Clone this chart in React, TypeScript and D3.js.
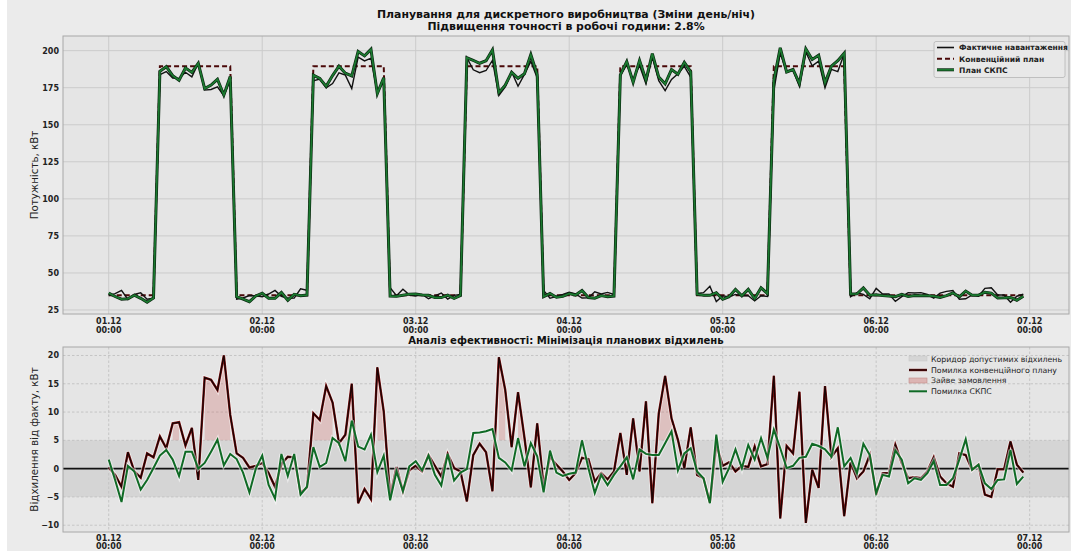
import React from "react";
import * as d3 from "d3";

const dayLabels = ["01.12", "02.12", "03.12", "04.12", "05.12", "06.12", "07.12"];
const timeLabel = "00:00";

// Conventional plan (kW), hourly 01.12 00:00 .. 06.12 23:00
const convPlan: number[] = [
  35, 35, 35, 35, 35, 35, 35, 35, 189.5, 189.5, 189.5, 189.5, 189.5, 189.5, 189.5, 189.5, 189.5, 189.5, 189.5, 189.5, 35, 35, 35, 35,
  35, 35, 35, 35, 35, 35, 35, 35, 189.5, 189.5, 189.5, 189.5, 189.5, 189.5, 189.5, 189.5, 189.5, 189.5, 189.5, 189.5, 35, 35, 35, 35,
  35, 35, 35, 35, 35, 35, 35, 35, 189.5, 189.5, 189.5, 189.5, 189.5, 189.5, 189.5, 189.5, 189.5, 189.5, 189.5, 189.5, 35, 35, 35, 35,
  35, 35, 35, 35, 35, 35, 35, 35, 189.5, 189.5, 189.5, 189.5, 189.5, 189.5, 189.5, 189.5, 189.5, 189.5, 189.5, 189.5, 35, 35, 35, 35,
  35, 35, 35, 35, 35, 35, 35, 35, 189.5, 189.5, 189.5, 189.5, 189.5, 189.5, 189.5, 189.5, 189.5, 189.5, 189.5, 189.5, 35, 35, 35, 35,
  35, 35, 35, 35, 35, 35, 35, 35, 35, 35, 35, 35, 35, 35, 35, 35, 35, 35, 35, 35, 35, 35, 35, 35,
];

// Error of the conventional plan (plan - actual), kW
const convError: number[] = [
  0.2, -1.1, -3.2, 2.9, -0.5, -1.6, 2.7, 2.0,
  5.7, 3.6, 8.0, 8.2, 4.1, 7.2, -2.0, 16.1, 15.7, 13.9, 20.0, 9.5,
  2.7, 1.9, 0.2, 0.5, 1.0, -0.8, -3.2, 0.8, 2.1, 2.0, -4.3, -3.3,
  9.8, 8.6, 14.6, 11.7, 4.5, 6.0, 15.0, -6.1, -3.6, -5.4, 17.9, 10.1,
  -5.0, 0.3, -4.0, -0.3, 0.5, -0.5, 2.4, 0.5, -1.4, 2.6, 0.1, -0.5,
  -5.8, 2.4, 4.4, 2.9, -4.0, 19.7, 13.9, 3.8, 13.5, 5.5, -3.3, 8.0,
  -3.2, 2.1, 0.7, -0.5, -2.0, -0.8, 1.9, 1.7, -2.3, -0.8, -1.9, -0.5,
  6.3, -1.1, 8.9, -0.5, 11.9, -6.1, 9.7, 16.4, 8.9, 5.1, 0.1, 7.3,
  -1.1, -1.7, -6.0, 4.3, 0.5, 1.1, -0.5, 0.5, 0.3, 3.9, 0.4, 0.8,
  16.4, -8.8, 4.0, 2.7, 13.6, -9.6, -0.2, -3.4, 14.6, 2.1, 3.6, -8.4,
  1.1, -1.7, -0.5, 2.4, -4.6, -0.8, -0.8, 4.2, 1.0, -1.7, -1.5, -1.7,
  -0.5, 2.0, -1.4, -2.6, -3.2, 2.7, 2.4, -0.2, 0.7, -4.6, -5.0, -0.1, -0.1, 4.8, 0.7, -0.7,
];

// Error of the SKPS plan (plan - actual), kW
const skpsError: number[] = [
  1.6, -2.0, -5.9, 0.5, -0.5, -3.7, -2.0, 0.1,
  2.3, 3.3, 1.6, -1.3, 3.0, 3.0, 0.0, 1.0, 3.0, 5.1, 0.6, 2.6,
  1.7, -0.7, -4.2, 0.0, 2.3, -2.9, -5.3, 2.6, -1.3, 2.6, -4.6, -3.2,
  3.8, 0.3, 1.0, 5.4, 4.5, 1.3, 8.5, 3.9, 3.4, 6.0, -0.6, 2.3,
  -5.6, -0.5, -4.0, 0.4, 1.3, -0.3, 2.3, -1.1, -3.0, 2.6, -2.1, -0.7,
  -0.1, 6.3, 6.4, 6.6, 7.0, 1.9, 1.1, -0.3, 5.4, 0.4, 4.5, 2.2,
  -4.2, 3.2, -0.7, -1.3, -0.9, -0.7, 5.0, 0.1, -4.3, -1.1, -2.9, -1.1,
  0.4, 2.0, -1.9, 3.4, 2.6, 2.4, 2.4, 4.5, 6.6, -0.3, 2.7, 3.6,
  -0.5, -1.7, -6.1, 6.0, -2.3, 0.1, 3.4, 0.1, 4.2, 1.6, 5.4, 1.9,
  6.9, 3.6, 0.1, 0.5, 1.9, 2.1, 4.4, 4.0, 3.4, 2.1, 7.3, 0.4,
  1.9, -0.8, 4.4, 2.4, -4.3, -1.1, -1.4, 3.2, 1.6, -2.6, -1.7, -2.0,
  -0.8, 1.3, -2.9, -2.9, -1.7, 1.6, 5.2, -0.2, 0.7, -2.6, -3.6, -2.0, -1.9, 3.3, -2.7, -1.4,
];

const topTicks = [25, 50, 75, 100, 125, 150, 175, 200];
const bottomTicks = [-10, -5, 0, 5, 10, 15, 20];
const tolerance = 5;

const FONT = "DejaVu Sans, sans-serif";

export default function App() {
  const W = 1071, H = 551;
  const L = 63, R = 1069;
  const top1 = 36, bot1 = 314;
  const top2 = 347, bot2 = 532;

  const actual = convPlan.map((p, i) => p - convError[i]);
  const skps = actual.map((a, i) => a + skpsError[i]);
  const idx = convPlan.map((_, i) => i);

  const x = d3.scaleLinear().domain([-7.15, 150.15]).range([L, R]);
  const y1 = d3.scaleLinear().domain([22.3, 209.9]).range([bot1, top1]);
  const y2 = d3.scaleLinear().domain([-11.2, 21.5]).range([bot2, top2]);

  const lineTop = (arr: number[]) =>
    d3.line<number>().x((i) => x(i)).y((i) => y1(arr[i]))(idx) || "";
  const lineBot = (arr: number[]) =>
    d3.line<number>().x((i) => x(i)).y((i) => y2(arr[i]))(idx) || "";

  // runs where conventional error exceeds tolerance
  const runs: number[][] = [];
  let cur: number[] = [];
  convError.forEach((e, i) => {
    if (e > tolerance) cur.push(i);
    else {
      if (cur.length) runs.push(cur);
      cur = [];
    }
  });
  if (cur.length) runs.push(cur);
  const area = d3
    .area<number>()
    .x((i) => x(i))
    .y0(y2(tolerance))
    .y1((i) => y2(convError[i]));

  const dayX = dayLabels.map((_, d) => x(d * 24));

  return (
    <svg
      width={W}
      height={H}
      style={{ position: "absolute", left: 0, top: 0, display: "block" }}
      fontFamily={FONT}
    >
      <rect x={0} y={0} width={W} height={H} fill="#ebebeb" />
      <rect x={0} y={0} width={7} height={H} fill="#ffffff" />

      {/* titles */}
      <text x={566} y={18} textAnchor="middle" fontSize={10.9} fontWeight="bold" fill="#111">
        Планування для дискретного виробництва (Зміни день/ніч)
      </text>
      <text x={566} y={29.8} textAnchor="middle" fontSize={10.9} fontWeight="bold" fill="#111">
        Підвищення точності в робочі години: 2.8%
      </text>

      {/* ===== TOP PANEL ===== */}
      <rect x={L} y={top1} width={R - L} height={bot1 - top1} fill="#e5e5e5" />
      {topTicks.map((t) => (
        <line key={"gy" + t} x1={L} x2={R} y1={y1(t)} y2={y1(t)} stroke="#cbcbcb" strokeWidth={1} />
      ))}
      {dayX.map((px, d) => (
        <line key={"gx" + d} x1={px} x2={px} y1={top1} y2={bot1} stroke="#cbcbcb" strokeWidth={1} />
      ))}
      <path d={lineTop(convPlan)} fill="none" stroke="#4a0808" strokeWidth={2} strokeDasharray="5,3" />
      <path d={lineTop(actual)} fill="none" stroke="#111" strokeWidth={1.4} />
      <path d={lineTop(skps)} fill="none" stroke="#0b2610" strokeWidth={3} />
      <path d={lineTop(skps)} fill="none" stroke="#1b7a30" strokeWidth={1.7} />
      <rect x={L} y={top1} width={R - L} height={bot1 - top1} fill="none" stroke="#a8a8a8" strokeWidth={1} />
      {topTicks.map((t) => (
        <text key={"ty" + t} x={59} y={y1(t) + 3} textAnchor="end" fontSize={8} fontWeight="bold" fill="#222">
          {t}
        </text>
      ))}
      {dayX.map((px, d) => (
        <g key={"tx" + d}>
          <text x={px} y={323.5} textAnchor="middle" fontSize={8} fontWeight="bold" fill="#222">
            {dayLabels[d]}
          </text>
          <text x={px} y={333.3} textAnchor="middle" fontSize={8} fontWeight="bold" fill="#222">
            {timeLabel}
          </text>
        </g>
      ))}
      <text
        transform={`translate(38,${(top1 + bot1) / 2}) rotate(-90)`}
        textAnchor="middle"
        fontSize={10.3}
        fill="#222"
      >
        Потужність, кВт
      </text>

      {/* top legend */}
      <rect x={934} y={41.5} width={131} height={36} rx={2} fill="#e8e8e8" stroke="#b5b5b5" strokeWidth={0.8} />
      <line x1={937} x2={954} y1={47.5} y2={47.5} stroke="#111" strokeWidth={1.6} />
      <text x={959} y={50.3} fontSize={7.6} fontWeight="bold" fill="#222">Фактичне навантаження</text>
      <line x1={937} x2={954} y1={58.8} y2={58.8} stroke="#4a0808" strokeWidth={2} strokeDasharray="5,3" />
      <text x={959} y={61.6} fontSize={7.6} fontWeight="bold" fill="#222">Конвенційний план</text>
      <line x1={937} x2={954} y1={69.8} y2={69.8} stroke="#0b2610" strokeWidth={3} />
      <line x1={937} x2={954} y1={69.8} y2={69.8} stroke="#1b7a30" strokeWidth={1.7} />
      <text x={959} y={72.6} fontSize={7.6} fontWeight="bold" fill="#222">План СКПС</text>

      {/* ===== BOTTOM PANEL ===== */}
      <text x={566} y={344} textAnchor="middle" fontSize={10.1} fontWeight="bold" fill="#111">
        Аналіз ефективності: Мінімізація планових відхилень
      </text>
      <rect x={L} y={top2} width={R - L} height={bot2 - top2} fill="#e5e5e5" />
      <rect
        x={L}
        y={y2(tolerance)}
        width={R - L}
        height={y2(-tolerance) - y2(tolerance)}
        fill="#d5d5d5"
      />
      {bottomTicks.map((t) => (
        <line
          key={"g2y" + t}
          x1={L}
          x2={R}
          y1={y2(t)}
          y2={y2(t)}
          stroke="#c2c2c2"
          strokeWidth={0.9}
          strokeDasharray="2.5,2"
        />
      ))}
      {dayX.map((px, d) => (
        <line
          key={"g2x" + d}
          x1={px}
          x2={px}
          y1={top2}
          y2={bot2}
          stroke="#c2c2c2"
          strokeWidth={0.9}
          strokeDasharray="2.5,2"
        />
      ))}
      {runs
        .filter((r) => r.length > 1)
        .map((r, k) => (
          <path key={"f" + k} d={area(r) || ""} fill="#c8605c" fillOpacity={0.28} />
        ))}
      <line x1={L} x2={R} y1={y2(0)} y2={y2(0)} stroke="#111" strokeWidth={1.7} />
      <path d={lineBot(convError)} fill="none" stroke="#ffffff" strokeOpacity={0.5} strokeWidth={4.2} />
      <path d={lineBot(convError)} fill="none" stroke="#7e1414" strokeWidth={2.4} />
      <path d={lineBot(convError)} fill="none" stroke="#1a0303" strokeWidth={1.3} />
      <path d={lineBot(skpsError)} fill="none" stroke="#ffffff" strokeOpacity={0.5} strokeWidth={4.2} />
      <path d={lineBot(skpsError)} fill="none" stroke="#0f6a25" strokeWidth={2} />
      <rect x={L} y={top2} width={R - L} height={bot2 - top2} fill="none" stroke="#a8a8a8" strokeWidth={1} />
      {bottomTicks.map((t) => (
        <text key={"by" + t} x={59} y={y2(t) + 3} textAnchor="end" fontSize={8} fontWeight="bold" fill="#222">
          {t < 0 ? "\u2212" + Math.abs(t) : t}
        </text>
      ))}
      {dayX.map((px, d) => (
        <g key={"bx" + d}>
          <text x={px} y={540.5} textAnchor="middle" fontSize={8} fontWeight="bold" fill="#222">
            {dayLabels[d]}
          </text>
          <text x={px} y={549.3} textAnchor="middle" fontSize={8} fontWeight="bold" fill="#222">
            {timeLabel}
          </text>
        </g>
      ))}
      <text
        transform={`translate(38,${(top2 + bot2) / 2}) rotate(-90)`}
        textAnchor="middle"
        fontSize={10.3}
        fill="#222"
      >
        Відхилення від факту, кВт
      </text>

      {/* bottom legend */}
      <rect x={909} y={356} width={18} height={5} fill="#d5d5d5" stroke="#c8c8c8" strokeWidth={0.6} />
      <text x={931} y={361.7} fontSize={7.8} fill="#222">Коридор допустимих відхилень</text>
      <line x1={909} x2={927} y1={370} y2={370} stroke="#7e1414" strokeWidth={2.4} />
      <line x1={909} x2={927} y1={370} y2={370} stroke="#1a0303" strokeWidth={1.3} />
      <text x={931} y={372.7} fontSize={7.8} fill="#222">Помилка конвенційного плану</text>
      <rect x={909} y={378} width={18} height={5} fill="#dcb4b3" stroke="#c48a88" strokeWidth={0.6} />
      <text x={931} y={383.4} fontSize={7.8} fill="#222">Зайве замовлення</text>
      <line x1={909} x2={927} y1={391.3} y2={391.3} stroke="#0f6a25" strokeWidth={2} />
      <text x={931} y={394} fontSize={7.8} fill="#222">Помилка СКПС</text>
    </svg>
  );
}
